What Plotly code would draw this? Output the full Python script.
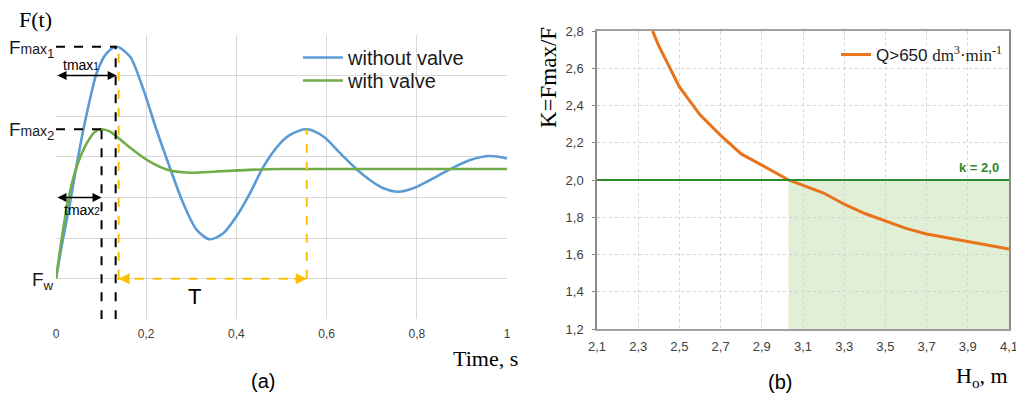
import numpy as np
import plotly.graph_objects as go

# ---------------- data: panel (a) ----------------
t_blue = [0, 0.015, 0.031, 0.045, 0.0605, 0.075, 0.09, 0.112, 0.1345, 0.164, 0.194,
          0.223, 0.253, 0.282, 0.312, 0.341, 0.371, 0.40, 0.43, 0.46, 0.497, 0.519,
          0.556, 0.593, 0.63, 0.667, 0.696, 0.726, 0.759, 0.792, 0.83, 0.873, 0.918,
          0.962, 1.0]
F_blue = [1.0, 1.95, 2.86, 3.75, 4.66, 5.4, 6.06, 6.55, 6.71, 6.47, 5.65,
          4.66, 3.72, 2.86, 2.20, 1.97, 2.12, 2.53, 3.10, 3.76, 4.33, 4.54,
          4.68, 4.50, 4.09, 3.69, 3.43, 3.225, 3.14, 3.225, 3.43, 3.69, 3.92,
          4.02, 3.96]
t_green = [0, 0.013, 0.027, 0.046, 0.068, 0.0865, 0.101, 0.12, 0.1345, 0.171, 0.208,
           0.245, 0.297, 0.356, 0.43, 0.497, 0.6, 0.8, 1.0]
F_green = [1.0, 2.0, 2.94, 3.76, 4.33, 4.62, 4.68, 4.62, 4.50, 4.17, 3.88,
           3.69, 3.61, 3.64, 3.68, 3.70, 3.70, 3.70, 3.70]
x_ticks_a = [0, 0.2, 0.4, 0.6, 0.8, 1]
tmax1_level = 6.0
tmax2_level = 3.0

# ---------------- data: panel (b) ----------------
H_vals = [2.37, 2.4, 2.5, 2.6, 2.7, 2.8, 2.9, 3.03, 3.2, 3.3, 3.4, 3.5, 3.6, 3.7, 3.8, 3.9, 4.1]
K_vals = [2.80, 2.72, 2.50, 2.35, 2.24, 2.14, 2.08, 2.00, 1.93, 1.87, 1.82, 1.78, 1.74, 1.71, 1.69, 1.67, 1.63]
K_LIMIT = 2.0
H_cross = 3.03
x_ticks_b = [2.1, 2.3, 2.5, 2.7, 2.9, 3.1, 3.3, 3.5, 3.7, 3.9, 4.1]
y_ticks_b = [1.2, 1.4, 1.6, 1.8, 2.0, 2.2, 2.4, 2.6, 2.8]

BLUE = "#5b9bd5"
GREEN = "#70ad47"
YELLOW = "#ffc000"
ORANGE = "#e8731a"
DKGREEN = "#2b8a2b"
ARIAL = "Liberation Sans, Arial"
SERIF = "Liberation Serif, Times New Roman"

# page offset of the plot inside the browser window (body margin)
OFF = 8
W, H = 1024, 408


def PX(p):
    return (p - OFF) / W


def PY(p):
    return 1 - (p - OFF) / H


# derived key points
i1 = int(np.argmax(F_blue))
t_max1, F_max1 = t_blue[i1], F_blue[i1]
i2 = int(np.argmax(F_green))
t_max2, F_max2 = t_green[i2], F_green[i2]
later = [j for j in range(len(t_blue)) if 0.45 < t_blue[j] < 0.7]
j2 = max(later, key=lambda j: F_blue[j])
t_p2, F_p2 = t_blue[j2], F_blue[j2]
F_w = F_blue[0]

fig = go.Figure()
fig.add_trace(go.Scatter(x=t_blue, y=F_blue, mode="lines", name="without valve", showlegend=True,
                         line=dict(color=BLUE, width=2.6, shape="spline", smoothing=0.8),
                         xaxis="x", yaxis="y", legend="legend"))
fig.add_trace(go.Scatter(x=t_green, y=F_green, mode="lines", name="with valve", showlegend=True,
                         line=dict(color=GREEN, width=2.6, shape="spline", smoothing=0.8),
                         xaxis="x", yaxis="y", legend="legend3"))
fig.add_trace(go.Scatter(x=H_vals, y=K_vals, mode="lines", showlegend=True,
                         name="Q>650 <span style='font-family:Liberation Serif'>dm<sup>3</sup>·min<sup>-1</sup></span>",
                         line=dict(color=ORANGE, width=3),
                         xaxis="x2", yaxis="y2", legend="legend2"))

shapes = []
dash_blk = dict(color="black", width=2, dash="dash")
dash_yel = dict(color=YELLOW, width=2, dash="dash")
shapes.append(dict(type="line", xref="x", yref="y", x0=0, x1=t_max1, y0=F_max1, y1=F_max1, line=dash_blk))
shapes.append(dict(type="line", xref="x", yref="y", xsizemode="pixel", xanchor=t_max1,
                   x0=-1, x1=-1, y0=0, y1=F_max1, line=dash_blk))
shapes.append(dict(type="line", xref="x", yref="y", xsizemode="pixel", xanchor=t_max1,
                   x0=2, x1=2, y0=F_w, y1=F_max1, line=dash_yel))
shapes.append(dict(type="line", xref="x", yref="y", x0=0, x1=t_max2, y0=F_max2, y1=F_max2, line=dash_blk))
shapes.append(dict(type="line", xref="x", yref="y", x0=t_max2, x1=t_max2, y0=0, y1=F_max2, line=dash_blk))
shapes.append(dict(type="line", xref="x", yref="y", x0=t_p2, x1=t_p2, y0=F_w, y1=F_p2, line=dash_yel))
shapes.append(dict(type="line", xref="x", yref="y", x0=t_max1, x1=t_p2, y0=F_w, y1=F_w, line=dash_yel))
shapes.append(dict(type="rect", xref="x2", yref="y2", x0=H_cross, x1=x_ticks_b[-1], y0=y_ticks_b[0], y1=K_LIMIT,
                   fillcolor="#e2efd7", line=dict(width=0), layer="below"))
shapes.append(dict(type="line", xref="x2", yref="y2", x0=x_ticks_b[0], x1=x_ticks_b[-1], y0=K_LIMIT, y1=K_LIMIT,
                   line=dict(color=DKGREEN, width=2.2)))

ann = []
for lvl, tm in [(tmax1_level, t_max1), (tmax2_level, t_max2)]:
    ann.append(dict(xref="x", yref="y", axref="x", ayref="y", x=tm, y=lvl, ax=0, ay=lvl,
                    text="", showarrow=True, arrowhead=2, arrowside="end+start",
                    arrowsize=1.2, arrowwidth=1.5, arrowcolor="black"))
ann.append(dict(xref="x", yref="y", x=t_max1, y=F_w, ax=14, ay=0, text="", showarrow=True,
                arrowhead=2, arrowsize=1.1, arrowwidth=2, arrowcolor=YELLOW, standoff=2))
ann.append(dict(xref="x", yref="y", x=t_p2, y=F_w, ax=-14, ay=0, text="", showarrow=True,
                arrowhead=2, arrowsize=1.1, arrowwidth=2, arrowcolor=YELLOW, standoff=0))

ann.append(dict(xref="x", yref="y", x=t_max1 / 2 - 0.012, y=tmax1_level, yshift=11, showarrow=False,
                text="tmax<span style='font-size:10px'>1</span>",
                font=dict(family=ARIAL, size=14, color="black")))
ann.append(dict(xref="x", yref="y", x=t_max1 / 2 - 0.01, y=tmax2_level, yshift=-13, showarrow=False,
                text="tmax<span style='font-size:10px'>2</span>",
                font=dict(family=ARIAL, size=14, color="black")))
ann.append(dict(xref="x", yref="y", x=(t_max1 + t_p2) / 2, xshift=-17, y=F_w, yshift=-18, showarrow=False,
                text="T", font=dict(family=ARIAL, size=22, color="black")))
lab_a = [(F_max1, "F<span style='font-size:14px'>max</span><sub>1</sub>"),
         (F_max2, "F<span style='font-size:14px'>max</span><sub>2</sub>"),
         (F_w, "F<sub>w</sub>")]
for yv, tx in lab_a:
    ann.append(dict(xref="paper", yref="y", x=PX(56), xanchor="right", xshift=0, y=yv, yanchor="middle",
                    yshift=-2, showarrow=False, text=tx, font=dict(family=ARIAL, size=19, color="#1a1a1a")))
ann.append(dict(xref="paper", yref="paper", x=PX(17), xanchor="left", y=PY(19), yanchor="middle",
                showarrow=False, text="F(t)", font=dict(family=SERIF, size=22, color="black")))
ann.append(dict(xref="paper", yref="paper", x=PX(520), xanchor="right", y=PY(358), yanchor="middle",
                showarrow=False, text="Time, s", font=dict(family=SERIF, size=22, color="black")))
ann.append(dict(xref="paper", yref="paper", x=PX(263), xanchor="center", y=PY(381), yanchor="middle",
                showarrow=False, text="(a)", font=dict(family=ARIAL, size=20, color="black")))
ann.append(dict(xref="paper", yref="paper", x=PX(780), xanchor="center", y=PY(382), yanchor="middle",
                showarrow=False, text="(b)", font=dict(family=ARIAL, size=20, color="black")))
ann.append(dict(xref="paper", yref="paper", x=PX(1010), xanchor="right", y=PY(377), yanchor="middle",
                showarrow=False, text="H<sub>o</sub>, m", font=dict(family=SERIF, size=22, color="black")))
ann.append(dict(xref="paper", yref="paper", x=PX(548), xanchor="center", y=PY(78), yanchor="middle",
                showarrow=False, text="K=Fmax/F", textangle=-90, font=dict(family=SERIF, size=23, color="black")))
ann.append(dict(xref="x2", yref="y2", x=x_ticks_b[-1], xanchor="right", xshift=-8, y=K_LIMIT, yanchor="bottom",
                yshift=3, showarrow=False, text="<b>k = 2,0</b>", font=dict(family=ARIAL, size=13, color=DKGREEN)))

fig.update_layout(
    width=W, height=H, margin=dict(l=0, r=0, t=0, b=0, pad=0), autosize=False,
    paper_bgcolor="white", plot_bgcolor="white", separators=", ", showlegend=True,
    shapes=shapes, annotations=ann,
    xaxis=dict(domain=[PX(56), PX(507)], range=[0, 1], tickvals=x_ticks_a,
               showgrid=True, gridcolor="#d9d9d9", gridwidth=1.3, zeroline=False,
               showline=False, ticks="", ticklabelstandoff=6,
               tickfont=dict(family=ARIAL, size=12, color="#404040"),
               anchor="y", automargin=False),
    yaxis=dict(domain=[PY(319.3), PY(35)], range=[0, 7], dtick=1,
               showgrid=True, gridcolor="#d9d9d9", gridwidth=1.3, zeroline=False,
               showticklabels=False, showline=False, anchor="x", automargin=False),
    xaxis2=dict(domain=[PX(597), PX(1009)], range=[2.1, 4.1], tickvals=x_ticks_b, tickformat=".1f",
                showgrid=True, gridcolor="#d4d4d4", griddash="dot", zeroline=False,
                showline=True, mirror=True, linecolor="#a0a0a0", linewidth=1.5,
                ticks="", ticklabelstandoff=5,
                tickfont=dict(family=ARIAL, size=13, color="#404040"), anchor="y2", automargin=False),
    yaxis2=dict(domain=[PY(329), PY(31)], range=[1.2, 2.8], tickvals=y_ticks_b, tickformat=".1f",
                showgrid=True, gridcolor="#d4d4d4", griddash="dot", zeroline=False,
                showline=True, mirror=True, linecolor="#8a8a8a", linewidth=1.5,
                ticks="outside", ticklen=3, tickcolor="#8a8a8a", ticklabelstandoff=6,
                tickfont=dict(family=ARIAL, size=13, color="#404040"), anchor="x2", automargin=False),
    legend=dict(visible=True, x=PX(298), y=PY(38), xanchor="left", yanchor="top", bgcolor="rgba(0,0,0,0)",
                font=dict(family=ARIAL, size=20, color="#1a1a1a"), itemwidth=40),
    legend2=dict(visible=True, x=PX(836), y=PY(37), xanchor="left", yanchor="top", bgcolor="rgba(0,0,0,0)",
                 font=dict(family=ARIAL, size=17, color="#1a1a1a"), itemwidth=30),
    legend3=dict(visible=True, x=PX(298), y=PY(61), xanchor="left", yanchor="top", bgcolor="rgba(0,0,0,0)",
                 font=dict(family=ARIAL, size=20, color="#1a1a1a"), itemwidth=40),
)

fig.write_html("out.html")
